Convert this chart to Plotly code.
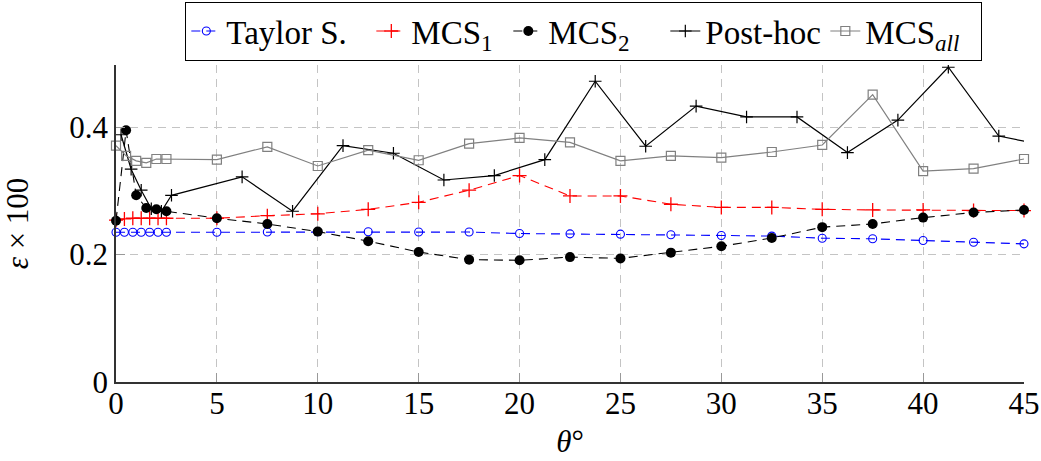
import plotly.graph_objects as go

# ---------------- data ----------------
x_fine = [0, 0.417, 0.833, 1.25, 1.667, 2.083, 2.5, 5, 7.5, 10, 12.5, 15, 17.5, 20,
          22.5, 25, 27.5, 30, 32.5, 35, 37.5, 40, 42.5, 45]
taylor = [0.235, 0.235, 0.235, 0.235, 0.235, 0.235, 0.235, 0.235, 0.2355, 0.2357,
          0.2357, 0.2355, 0.2353, 0.233, 0.2325, 0.232, 0.231, 0.230, 0.229, 0.2257,
          0.2247, 0.222, 0.2194, 0.2168]
mcs1 = [0.254, 0.256, 0.257, 0.257, 0.257, 0.257, 0.257, 0.257, 0.261, 0.264,
        0.271, 0.282, 0.301, 0.324, 0.292, 0.292, 0.279, 0.274, 0.274, 0.271,
        0.270, 0.270, 0.269, 0.269]

x_std = [0, 0.5, 1, 1.5, 2, 2.5, 5, 7.5, 10, 12.5, 15, 17.5, 20, 22.5, 25, 27.5,
         30, 32.5, 35, 37.5, 40, 42.5, 45]
mcs2 = [0.253, 0.395, 0.293, 0.273, 0.271, 0.268, 0.257, 0.248, 0.236, 0.221,
        0.204, 0.192, 0.191, 0.196, 0.194, 0.203, 0.213, 0.226, 0.243, 0.248,
        0.258, 0.266, 0.270]
mcs_all = [0.371, 0.355, 0.347, 0.344, 0.350, 0.350, 0.349, 0.369, 0.339, 0.364,
           0.348, 0.374, 0.383, 0.376, 0.347, 0.355, 0.352, 0.361, 0.372, 0.451,
           0.331, 0.335, 0.350]

x_post = [0.25, 0.75, 1.25, 1.75, 2.25, 2.75, 6.25, 8.75, 11.25, 13.75, 16.25,
          18.75, 21.25, 23.75, 26.25, 28.75, 31.25, 33.75, 36.25, 38.75, 41.25,
          43.75, 46.25]
post_hoc = [0.388, 0.334, 0.301, 0.272, 0.268, 0.293, 0.322, 0.268, 0.371, 0.359,
            0.317, 0.324, 0.349, 0.472, 0.370, 0.433, 0.416, 0.416, 0.360, 0.411,
            0.494, 0.386, 0.370]

x_ticks = [0, 5, 10, 15, 20, 25, 30, 35, 40, 45]
y_ticks = [0, 0.2, 0.4]
y_tick_text = ["0", "0.2", "0.4"]

FONT = "Liberation Serif"
FS = 31
LFS = 33

fig = go.Figure()

fig.add_trace(go.Scatter(
    x=x_fine, y=taylor, name="Taylor S.", mode="lines+markers", legendwidth=140,
    line=dict(color="#0000ff", width=1.1, dash="9px,6px"),
    marker=dict(symbol="circle-open", size=8, color="#0000ff", line=dict(width=1.1)),
    cliponaxis=False))
fig.add_trace(go.Scatter(
    x=x_fine, y=mcs1, name="MCS<sub>1</sub>", mode="lines+markers", legendwidth=92,
    line=dict(color="#ff0000", width=1.1, dash="9px,6px"),
    marker=dict(symbol="cross-thin-open", size=10, color="#ff0000", line=dict(width=1.3, color="#ff0000")),
    cliponaxis=False))
fig.add_trace(go.Scatter(
    x=x_std, y=mcs2, name="MCS<sub>2</sub>", mode="lines+markers", legendwidth=112,
    line=dict(color="#000000", width=1.1, dash="9px,6px"),
    marker=dict(symbol="circle", size=10, color="#000000"),
    cliponaxis=False))
fig.add_trace(go.Scatter(
    x=x_post, y=post_hoc, name="Post-hoc", mode="lines+markers", legendwidth=115,
    line=dict(color="#000000", width=1.2),
    marker=dict(symbol="cross-thin-open", size=9, color="#000000", line=dict(width=1.2, color="#000000")),
    cliponaxis=True))
fig.add_trace(go.Scatter(
    x=x_std, y=mcs_all, name="MCS<sub><i>all</i></sub>", mode="lines+markers", legendwidth=110,
    line=dict(color="#808080", width=1.2),
    marker=dict(symbol="square-open", size=9, color="#808080", line=dict(width=1.2)),
    cliponaxis=False))

fig.update_layout(
    width=1041, height=461, autosize=False,
    margin=dict(l=116, r=17, t=65, b=79, autoexpand=False),
    paper_bgcolor="white", plot_bgcolor="white",
    font=dict(family=FONT, size=FS, color="black"),
    legend=dict(
        orientation="h", x=0.515, xanchor="center", yref="container", y=0.996, yanchor="top",
        bordercolor="black", borderwidth=1.2, bgcolor="white",
        font=dict(family=FONT, size=LFS), itemwidth=30, tracegroupgap=0),
    xaxis=dict(
        range=[0, 45], tickvals=x_ticks, ticktext=[str(v) for v in x_ticks],
        showgrid=True, gridcolor="#c4c4c4", griddash="8px,6px", gridwidth=1.2,
        showline=True, linecolor="#333333", linewidth=1.5,
        ticks="inside", ticklen=9, tickcolor="#999999", tickwidth=1,
        zeroline=False, tickfont=dict(family=FONT, size=FS), automargin=False,
        ticklabelstandoff=-7, ticklabeloverflow="allow",
        title=dict(text="<i>θ</i>°", font=dict(family=FONT, size=FS), standoff=10),
    ),
    yaxis=dict(
        range=[0, 0.4975], tickvals=y_ticks, ticktext=y_tick_text,
        showgrid=True, gridcolor="#c4c4c4", griddash="8px,6px", gridwidth=1.2,
        showline=True, linecolor="#333333", linewidth=1.5,
        ticks="inside", ticklen=9, tickcolor="#999999", tickwidth=1,
        zeroline=False, tickfont=dict(family=FONT, size=FS), automargin=False,
        title=dict(text="<i>ε</i> × 100", font=dict(family=FONT, size=FS), standoff=32),
    ),
)

fig.write_html(
    "out.html",
    config={"displayModeBar": False},
    post_script="document.body.style.margin='0';document.body.style.overflow='hidden';",
)
